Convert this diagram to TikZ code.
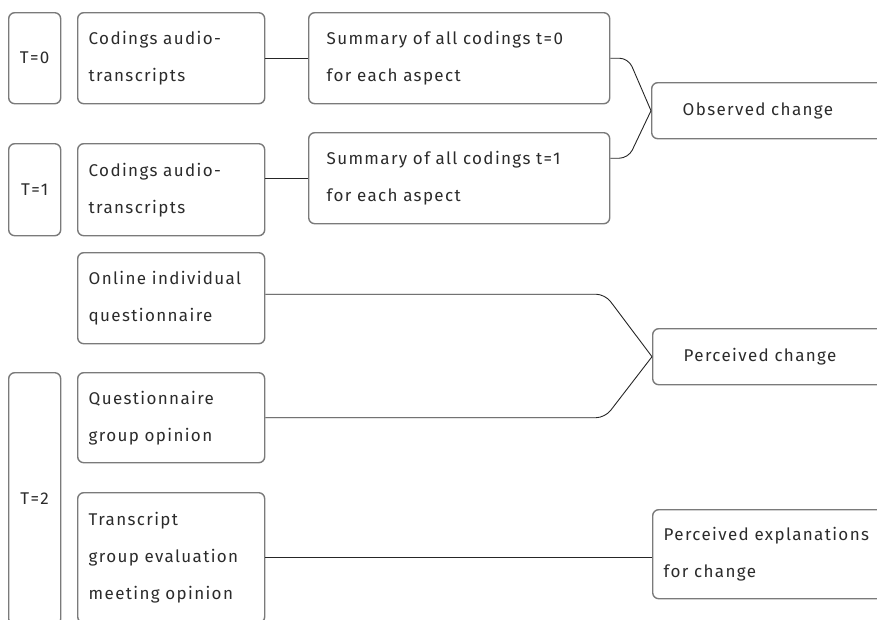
\documentclass[tikz,border=0pt]{standalone}
\usepackage{fontspec}
\setmainfont{Fira Sans}[LetterSpace=8]
\usetikzlibrary{calc}
\definecolor{boxgray}{HTML}{7A7A7A}
\definecolor{inkgray}{HTML}{2B2B2B}
\begin{document}
\begin{tikzpicture}[x=1pt,y=-1pt,
  box/.style={draw=boxgray, line width=1.4pt, rounded corners=6pt, inner sep=0pt,
    anchor=north west, text=inkgray, font=\fontsize{17}{37}\selectfont},
  txt/.style={align=left},
  link/.style={draw=black!85, line width=0.9pt, rounded corners=9pt}]
\useasboundingbox (0,0) rectangle (877,619);
\clip (0,0) rectangle (877,619);

% time labels
\node[box, minimum width=52pt, minimum height=91pt] (t0) at (8,12) {T=0};
\node[box, minimum width=52pt, minimum height=92pt] (t1) at (8,143) {T=1};
\node[box, minimum width=52pt, minimum height=252pt] (t2) at (8,372) {T=2};

% data sources
\node[box, txt, minimum width=187pt, minimum height=91pt, text width=165pt, inner xsep=11pt]
  (c0) at (77,12) {Codings audio-\\transcripts};
\node[box, txt, minimum width=187pt, minimum height=92pt, text width=165pt, inner xsep=11pt]
  (c1) at (77,143) {Codings audio-\\transcripts};
\node[box, txt, minimum width=187pt, minimum height=91pt, text width=165pt, inner xsep=11pt]
  (onl) at (77,252) {Online individual\\questionnaire};
\node[box, txt, minimum width=187pt, minimum height=90pt, text width=165pt, inner xsep=11pt]
  (qgr) at (77,372) {Questionnaire\\group opinion};
\node[box, txt, minimum width=187pt, minimum height=130pt, text width=165pt, inner xsep=11pt]
  (tra) at (77,492) {Transcript\\group evaluation\\meeting opinion};

% summaries
\node[box, txt, minimum width=301pt, minimum height=91pt, text width=265pt, inner xsep=18pt]
  (s0) at (308,12) {Summary of all codings t=0\\for each aspect};
\node[box, txt, minimum width=301pt, minimum height=91pt, text width=265pt, inner xsep=18pt]
  (s1) at (308,132) {Summary of all codings t=1\\for each aspect};

% outcomes
\node[box, txt, minimum width=300pt, minimum height=56pt, text width=238pt, inner xsep=31pt]
  (obs) at (651,82) {Observed change};
\node[box, txt, minimum width=300pt, minimum height=56pt, text width=238pt, inner xsep=31pt]
  (per) at (652,328) {Perceived change};
\node[box, txt, minimum width=300pt, minimum height=89pt, text width=278pt, inner xsep=11pt]
  (exp) at (652,509) {Perceived explanations\\for change};

% connectors
\draw[link] (c0.east) -- (s0.west);
\draw[link] (s1.west -| c1.east) -- (s1.west);

\coordinate (s1out) at ([yshift=20pt]s1.east);
\draw[link] (s0.east) -- ++(18,0) -- (obs.west);
\draw[link] (s1out) -- ++(18,0) -- (obs.west);

\coordinate (onlout) at ([yshift=4pt]onl.east);
\coordinate (pbend) at ($(per.west)+(-47,0)$);
\draw[link] (onlout) -- (onlout -| pbend) -- (per.west);
\draw[link] (qgr.east) -- (qgr.east -| pbend) -- (per.west);

\draw[link] (tra.east) -- (tra.east -| exp.west);
\end{tikzpicture}
\end{document}
